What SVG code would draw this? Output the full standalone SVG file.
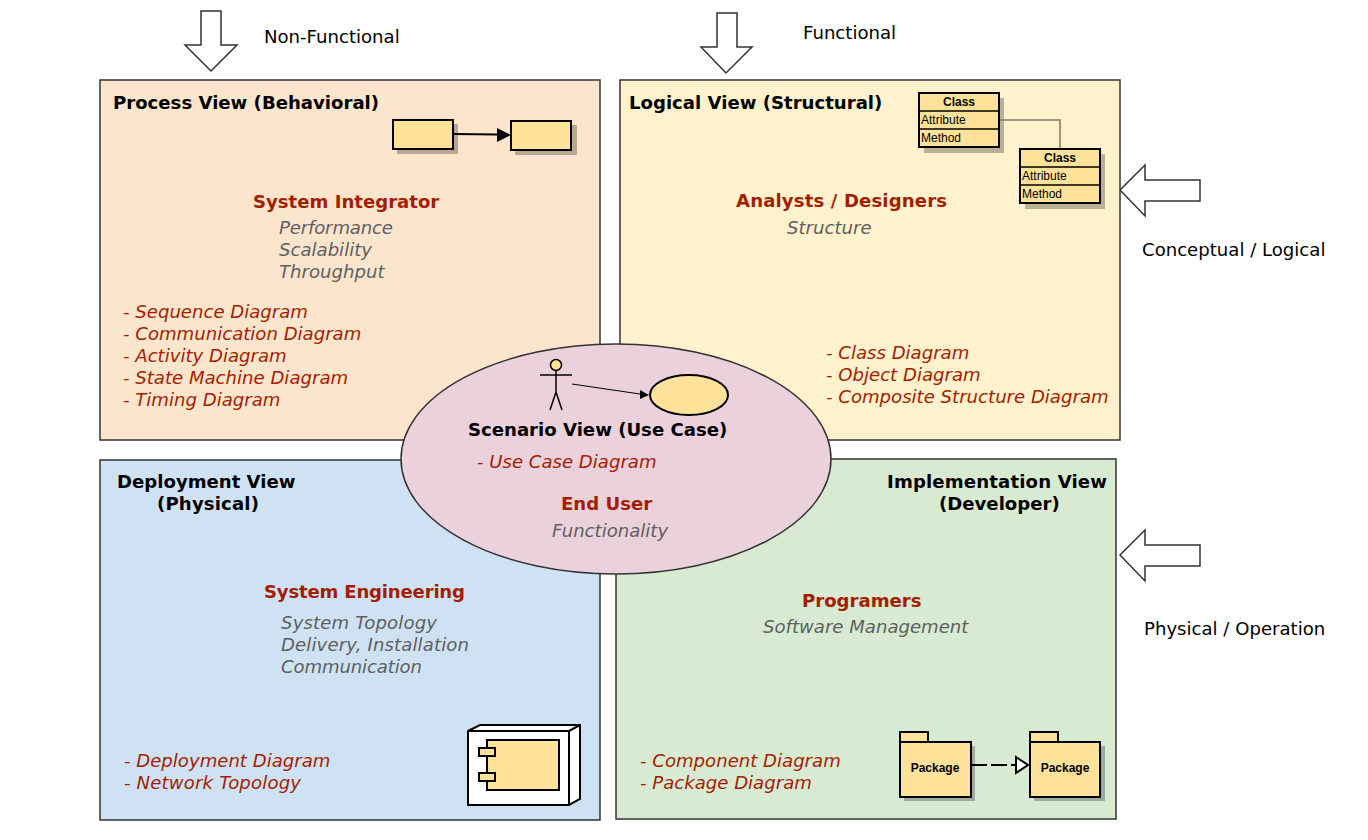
<svg xmlns="http://www.w3.org/2000/svg" width="1368" height="840" viewBox="0 0 1368 840">
<style>
text{font-family:"DejaVu Sans",Verdana,sans-serif;font-size:18.1px}
.title{font-weight:bold;fill:#000}
.role{font-weight:bold;fill:#a51d00}
.q{font-style:italic;fill:#5f5f5f}
.d{font-style:italic;fill:#a51d00}
.lbl{fill:#000}
.view{stroke:#333;stroke-width:1.5}
.arrow{fill:#fff;stroke:#333;stroke-width:1.5}
.y{fill:#ffe29a;stroke:#000;stroke-width:2}
.s{fill:#000;fill-opacity:.27;stroke:none}
.uml{font-family:"Liberation Sans",Arial,sans-serif;font-size:12px;fill:#000}
.umlb{font-family:"Liberation Sans",Arial,sans-serif;font-size:12px;font-weight:bold;fill:#000}
</style>
<rect width="1368" height="840" fill="#fff"/>
<g id="connectors">
<polygon id="arrow-nonfunctional" class="arrow" points="201,11 221,11 221,45 237,45 211,71 185,45 201,45"/>
<polygon id="arrow-functional" class="arrow" points="717,13 737,13 737,47 752,47 726,73 701,47 717,47"/>
<polygon id="arrow-conceptual" class="arrow" points="1200,180 1200,201 1145,201 1145,216 1120,190 1145,165 1145,180"/>
<polygon id="arrow-physical" class="arrow" points="1200,545 1200,566 1145,566 1145,581 1120,555 1145,530 1145,545"/>
</g>
<g id="process-view">
<rect class="view" x="100" y="80" width="500" height="360" fill="#fce5cd"/>
<text class="title" x="113" y="109">Process View (Behavioral)</text>
<rect class="s" x="397" y="124" width="61" height="30"/>
<rect class="y" x="393" y="120" width="60" height="29"/>
<rect class="s" x="515" y="125" width="62" height="30"/>
<rect class="y" x="511" y="121" width="60" height="29"/>
<path d="M453 134L498 134.500" stroke="#000" stroke-width="2" fill="none"/>
<polygon points="511,135 497,128 497,142" fill="#000"/>
<text class="role" x="253" y="208">System Integrator</text>
<text class="q" x="279" y="234" textLength="114">Performance</text>
<text class="q" x="279" y="256">Scalability</text>
<text class="q" x="279" y="278">Throughput</text>
<text class="d" x="123" y="318">- Sequence Diagram</text>
<text class="d" x="123" y="340">- Communication Diagram</text>
<text class="d" x="123" y="362">- Activity Diagram</text>
<text class="d" x="123" y="384">- State Machine Diagram</text>
<text class="d" x="123" y="406">- Timing Diagram</text>
</g>
<g id="logical-view">
<rect class="view" x="620" y="80" width="500" height="360" fill="#fff2cc"/>
<text class="title" x="629" y="109">Logical View (Structural)</text>
<rect class="s" x="924" y="98" width="80" height="55"/>
<path d="M999 120H1060V149" stroke="#7f7766" stroke-width="1.500" fill="none"/>
<rect class="y" x="919" y="93" width="80" height="54"/>
<path d="M919 111H999M919 129H999" stroke="#000" stroke-width="1.500"/>
<text class="umlb" x="959" y="106" text-anchor="middle">Class</text>
<text class="uml" x="921" y="124">Attribute</text>
<text class="uml" x="921" y="142">Method</text>
<rect class="s" x="1025" y="154" width="80" height="55"/>
<rect class="y" x="1020" y="149" width="80" height="54"/>
<path d="M1020 167H1100M1020 185H1100" stroke="#000" stroke-width="1.500"/>
<text class="umlb" x="1060" y="162" text-anchor="middle">Class</text>
<text class="uml" x="1022" y="180">Attribute</text>
<text class="uml" x="1022" y="198">Method</text>
<text class="role" x="736" y="207" textLength="211">Analysts / Designers</text>
<text class="q" x="787" y="234">Structure</text>
<text class="d" x="826" y="359">- Class Diagram</text>
<text class="d" x="826" y="381">- Object Diagram</text>
<text class="d" x="826" y="403">- Composite Structure Diagram</text>
</g>
<g id="deployment-view">
<rect class="view" x="100" y="460" width="500" height="360" fill="#cfe2f3"/>
<text class="title" x="117" y="488">Deployment View</text>
<text class="title" x="157" y="510" textLength="102">(Physical)</text>
<text class="role" x="264" y="598" textLength="201">System Engineering</text>
<text class="q" x="281" y="629" textLength="156">System Topology</text>
<text class="q" x="281" y="651" textLength="188">Delivery, Installation</text>
<text class="q" x="281" y="673" textLength="141">Communication</text>
<text class="d" x="124" y="767">- Deployment Diagram</text>
<text class="d" x="124" y="789" textLength="177">- Network Topology</text>
<path d="M468 731L480 725H580V799L569 805H468Z" fill="#fff" stroke="#000" stroke-width="2"/>
<path d="M468 731H569V805M569 731L580 725" fill="none" stroke="#000" stroke-width="2"/>
<rect class="y" x="487" y="740" width="72" height="50"/>
<rect class="y" x="479" y="748" width="16" height="8"/>
<rect class="y" x="479" y="773" width="16" height="8"/>
</g>
<g id="implementation-view">
<rect class="view" x="616" y="459" width="500" height="360" fill="#d9ead3"/>
<text class="title" x="887" y="488" textLength="220">Implementation View</text>
<text class="title" x="939" y="510">(Developer)</text>
<text class="role" x="802" y="607">Programers</text>
<text class="q" x="763" y="633">Software Management</text>
<text class="d" x="640" y="767">- Component Diagram</text>
<text class="d" x="640" y="789">- Package Diagram</text>
<rect class="s" x="904" y="746" width="71" height="55"/>
<rect class="y" x="900" y="732" width="28" height="10"/>
<rect class="y" x="900" y="742" width="71" height="55"/>
<text class="umlb" x="935" y="772" text-anchor="middle">Package</text>
<rect class="s" x="1034" y="746" width="71" height="55"/>
<rect class="y" x="1030" y="732" width="28" height="10"/>
<rect class="y" x="1030" y="742" width="70" height="55"/>
<text class="umlb" x="1065" y="772" text-anchor="middle">Package</text>
<path d="M971 765H1016" stroke="#000" stroke-width="2" stroke-dasharray="16 4" fill="none"/>
<polygon points="1016,757 1028,765 1016,773" fill="#fff" stroke="#000" stroke-width="2"/>
</g>
<g id="scenario-view">
<ellipse cx="616" cy="459" rx="215" ry="115" fill="#ead1dc" stroke="#333" stroke-width="1.500"/>
<circle cx="556" cy="365" r="5.500" fill="#ffe29a" stroke="#000" stroke-width="1.500"/>
<path d="M556 371V392M540 375H572M556 392L550 410M556 392L562 410" stroke="#000" stroke-width="1.500" fill="none"/>
<path d="M572 384L640 394" stroke="#000" stroke-width="1"/>
<polygon points="649,395 640,390 640,399" fill="#000"/>
<ellipse class="y" cx="689" cy="395" rx="39" ry="20"/>
<text class="title" x="468" y="436">Scenario View (Use Case)</text>
<text class="d" x="477" y="468">- Use Case Diagram</text>
<text class="role" x="561" y="510">End User</text>
<text class="q" x="552" y="537">Functionality</text>
</g>
<g id="labels">
<text class="lbl" x="264" y="43">Non-Functional</text>
<text class="lbl" x="803" y="39">Functional</text>
<text class="lbl" x="1142" y="256">Conceptual / Logical</text>
<text class="lbl" x="1144" y="635">Physical / Operation</text>
</g>
</svg>
